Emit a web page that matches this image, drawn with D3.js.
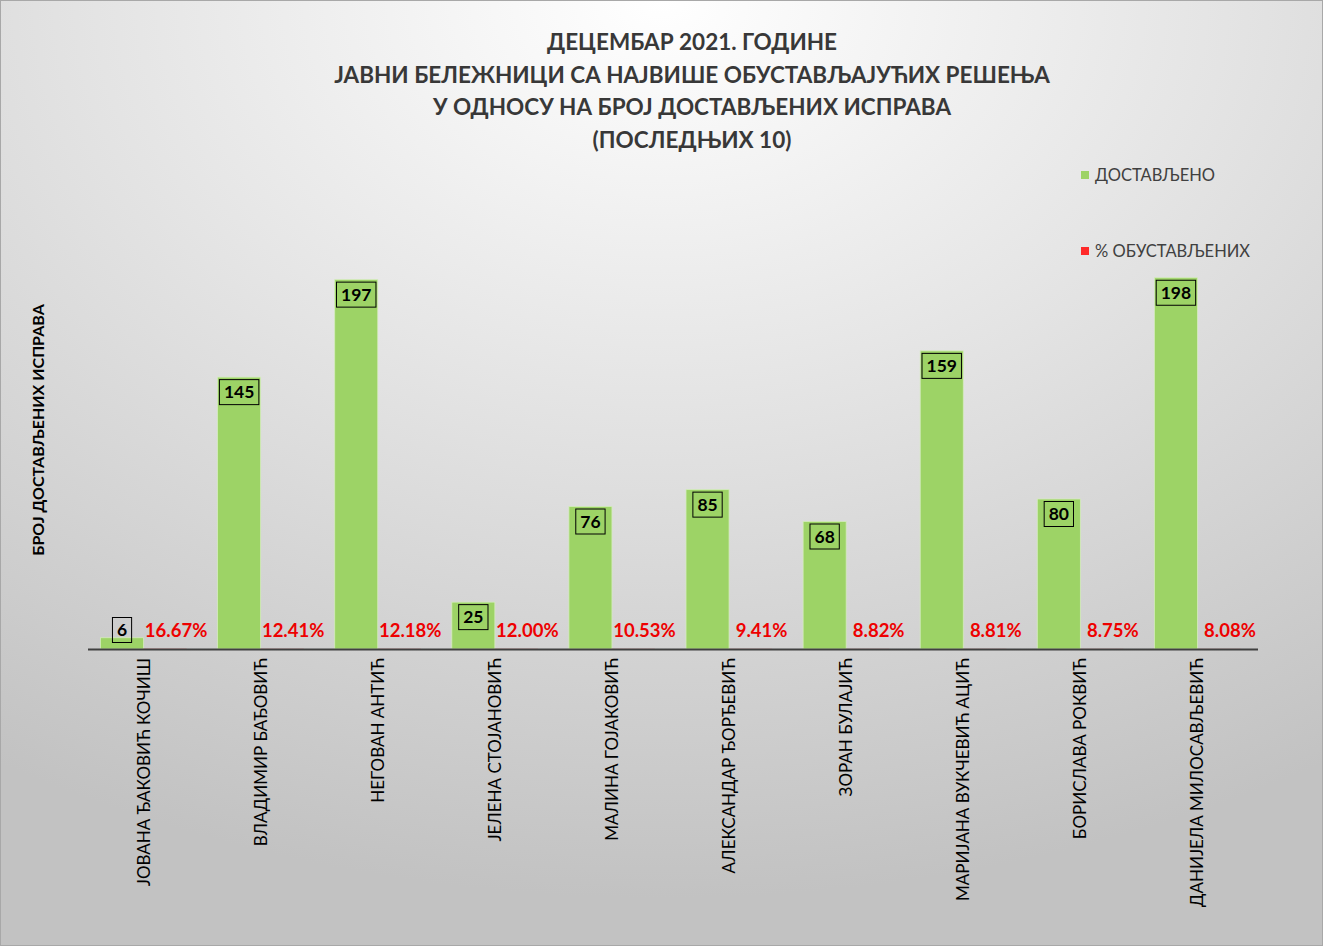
<!DOCTYPE html>
<html>
<head>
<meta charset="utf-8">
<script src="https://cdn.jsdelivr.net/npm/d3@7/dist/d3.min.js"></script>
<style>
  html, body { margin: 0; padding: 0; background: #fff; }
  svg { display: block; }
  text { font-family: Lato, "Open Sans", sans-serif; }
</style>
</head>
<body>
<div id="chart"></div>
<script>
// Chart data
const categories = [
    'ЈОВАНА ЂАКОВИЋ КОЧИШ', 'ВЛАДИМИР БАЂОВИЋ', 'НЕГОВАН АНТИЋ', 'ЈЕЛЕНА СТОЈАНОВИЋ',
    'МАЛИНА ГОЈАКОВИЋ', 'АЛЕКСАНДАР ЂОРЂЕВИЋ', 'ЗОРАН БУЛАЈИЋ', 'МАРИЈАНА ВУКЧЕВИЋ АЦИЋ',
    'БОРИСЛАВА РОКВИЋ', 'ДАНИЈЕЛА МИЛОСАВЉЕВИЋ'
];
const delivered = [6, 145, 197, 25, 76, 85, 68, 159, 80, 198];
const suspendedPct = [0.1667, 0.1241, 0.1218, 0.1200, 0.1053, 0.0941, 0.0882, 0.0881, 0.0875, 0.0808];
const titleLines = [
    'ДЕЦЕМБАР 2021. ГОДИНЕ',
    'ЈАВНИ БЕЛЕЖНИЦИ СА НАЈВИШЕ ОБУСТАВЉАЈУЋИХ РЕШЕЊА',
    'У ОДНОСУ НА БРОЈ ДОСТАВЉЕНИХ ИСПРАВА',
    '(ПОСЛЕДЊИХ 10)'
];
const legendLabels = ['ДОСТАВЉЕНО', '% ОБУСТАВЉЕНИХ'];
const yTitle = 'БРОЈ ДОСТАВЉЕНИХ ИСПРАВА';

const W = 1323, H = 946;
const plot = { left: 88, right: 1258, top: 274, bottom: 649 };
const green = '#9dd366';
const red = '#ff2a2a';

const svg = d3.select('#chart').append('svg')
    .attr('width', W)
    .attr('height', H);

// Background: soft radial gradient, white at top centre, grey at edges
const defs = svg.append('defs');
const grad = defs.append('radialGradient')
    .attr('id', 'bg')
    .attr('cx', '50%').attr('cy', '0%')
    .attr('r', '95%')
    .attr('gradientUnits', 'objectBoundingBox');
grad.append('stop').attr('offset', '0%').attr('stop-color', '#ffffff');
grad.append('stop').attr('offset', '45%').attr('stop-color', '#e4e4e4');
grad.append('stop').attr('offset', '100%').attr('stop-color', '#c2c2c2');

svg.append('rect')
    .attr('x', 0.5).attr('y', 0.5)
    .attr('width', W - 1).attr('height', H - 1)
    .attr('fill', 'url(#bg)')
    .attr('stroke', '#a8a8a8')
    .attr('stroke-width', 1);

// Scales
const x0 = d3.scaleBand()
    .domain(categories)
    .range([85, 1256])
    .paddingInner(0.265)
    .paddingOuter(0.1325);

const x1 = d3.scaleBand()
    .domain(['delivered', 'pct'])
    .range([0, x0.bandwidth()]);

const y = d3.scaleLinear()
    .domain([0, 200])
    .range([plot.bottom, plot.top]);

// Title
svg.append('g')
    .selectAll('text')
    .data(titleLines)
    .join('text')
    .attr('x', 692)
    .attr('y', (d, i) => 50 + i * 32.5)
    .attr('text-anchor', 'middle')
    .attr('font-size', 22.5)
    .attr('font-weight', 'bold')
    .attr('fill', '#383838')
    .text(d => d);

// Legend
const legend = svg.append('g')
    .selectAll('g')
    .data(legendLabels)
    .join('g')
    .attr('transform', (d, i) => `translate(1081, ${175 + i * 76})`);
legend.append('rect')
    .attr('x', 0).attr('y', -4)
    .attr('width', 8).attr('height', 8)
    .attr('fill', (d, i) => i === 0 ? green : red);
legend.append('text')
    .attr('x', 14)
    .attr('y', 6)
    .attr('font-size', 16.5)
    .attr('fill', '#404040')
    .text(d => d);

// Y axis title
svg.append('text')
    .attr('transform', `translate(44, 430) rotate(-90)`)
    .attr('text-anchor', 'middle')
    .attr('font-size', 16)
    .attr('font-weight', 'bold')
    .attr('fill', '#000')
    .text(yTitle);

// Bars
const groups = svg.append('g')
    .selectAll('g')
    .data(categories.map((c, i) => ({ c, v: delivered[i], p: suspendedPct[i] })))
    .join('g')
    .attr('transform', d => `translate(${x0(d.c)},0)`);

groups.append('rect')
    .attr('x', x1('delivered'))
    .attr('y', d => y(d.v))
    .attr('width', x1.bandwidth())
    .attr('height', d => y(0) - y(d.v))
    .attr('fill', green)
    .attr('stroke', '#d4ecbc')
    .attr('stroke-width', 0.8);

groups.append('rect')
    .attr('x', x1('pct'))
    .attr('y', d => y(d.p))
    .attr('width', x1.bandwidth())
    .attr('height', d => Math.max(y(0) - y(d.p), 0.6))
    .attr('fill', red)
    .attr('opacity', 0.5);

// Value labels in boxes
const valueLabel = groups.append('g')
    .attr('transform', d => {
        const cx = x1('delivered') + x1.bandwidth() / 2;
        const cy = Math.min(y(d.v) + 15, plot.bottom - 19);
        return `translate(${cx},${cy})`;
    });
valueLabel.append('text')
    .attr('text-anchor', 'middle')
    .attr('dy', '0.36em')
    .attr('font-size', 17.5)
    .attr('font-weight', 'bold')
    .attr('fill', '#000')
    .text(d => d.v);
valueLabel.each(function () {
    const g = d3.select(this);
    const bb = g.select('text').node().getBBox();
    g.insert('rect', 'text')
        .attr('x', bb.x - 4.5)
        .attr('y', -12.5)
        .attr('width', bb.width + 9)
        .attr('height', 25)
        .attr('fill', 'none')
        .attr('stroke', '#000')
        .attr('stroke-width', 1);
});

// Percent labels
groups.append('text')
    .attr('x', x1('pct') + x1.bandwidth() / 2 + 11)
    .attr('y', d => y(d.p) - 12)
    .attr('text-anchor', 'middle')
    .attr('font-size', 18.5)
    .attr('font-weight', 'bold')
    .attr('fill', '#ee0000')
    .text(d => (d.p * 100).toFixed(2) + '%');

// X axis line and category labels
svg.append('line')
    .attr('x1', plot.left).attr('x2', plot.right)
    .attr('y1', plot.bottom + 0.5).attr('y2', plot.bottom + 0.5)
    .attr('stroke', '#404040')
    .attr('stroke-width', 2.2);

svg.append('g')
    .selectAll('text')
    .data(categories)
    .join('text')
    .attr('transform', d => `translate(${x0(d) + x0.bandwidth() / 2 + 6}, 658) rotate(-90)`)
    .attr('text-anchor', 'end')
    .attr('font-size', 17)
    .attr('fill', '#000')
    .text(d => d);
</script>
</body>
</html>
